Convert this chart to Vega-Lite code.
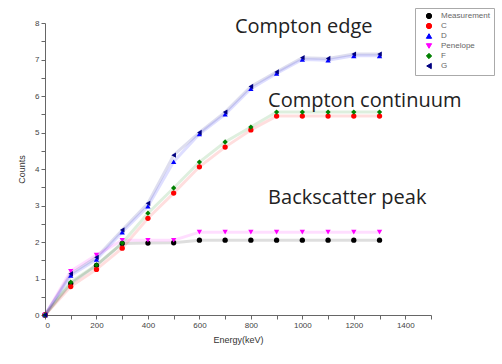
{
  "$schema": "https://vega.github.io/schema/vega-lite/v6.json",
  "autosize": {"type": "none"},
  "width": 386,
  "height": 292,
  "padding": {"left": 45, "top": 23, "right": 71, "bottom": 49},
  "background": "white",
  "config": {
    "view": {"stroke": null},
    "font": "Liberation Sans",
    "axis": {"grid": false, "domainColor": "#666", "tickColor": "#666", "labelColor": "#444", "titleColor": "#333", "labelFontSize": 8, "titleFontSize": 9, "titleFontWeight": "normal", "tickSize": 4, "labelOverlap": false},
    "legend": {"title": null, "orient": "none", "legendX": 370, "legendY": -15, "labelFontSize": 8, "labelColor": "#666", "symbolSize": 28, "symbolOpacity": 1, "symbolStrokeWidth": 1, "rowPadding": 0, "strokeColor": "#aaa", "padding": 4, "fillColor": "white", "labelOffset": 8, "symbolOffset": 6, "labelLimit": 80}
  },
  "datasets": {
    "series": [
      {"energy": 0, "counts": 0, "sim": "Measurement"},
      {"energy": 100, "counts": 0.86, "sim": "Measurement"},
      {"energy": 200, "counts": 1.36, "sim": "Measurement"},
      {"energy": 300, "counts": 1.96, "sim": "Measurement"},
      {"energy": 400, "counts": 1.97, "sim": "Measurement"},
      {"energy": 500, "counts": 1.98, "sim": "Measurement"},
      {"energy": 600, "counts": 2.05, "sim": "Measurement"},
      {"energy": 700, "counts": 2.05, "sim": "Measurement"},
      {"energy": 800, "counts": 2.05, "sim": "Measurement"},
      {"energy": 900, "counts": 2.05, "sim": "Measurement"},
      {"energy": 1000, "counts": 2.05, "sim": "Measurement"},
      {"energy": 1100, "counts": 2.05, "sim": "Measurement"},
      {"energy": 1200, "counts": 2.05, "sim": "Measurement"},
      {"energy": 1300, "counts": 2.05, "sim": "Measurement"},
      {"energy": 0, "counts": 0, "sim": "C"},
      {"energy": 100, "counts": 0.78, "sim": "C"},
      {"energy": 200, "counts": 1.25, "sim": "C"},
      {"energy": 300, "counts": 1.83, "sim": "C"},
      {"energy": 400, "counts": 2.65, "sim": "C"},
      {"energy": 500, "counts": 3.34, "sim": "C"},
      {"energy": 600, "counts": 4.06, "sim": "C"},
      {"energy": 700, "counts": 4.6, "sim": "C"},
      {"energy": 800, "counts": 5.07, "sim": "C"},
      {"energy": 900, "counts": 5.45, "sim": "C"},
      {"energy": 1000, "counts": 5.45, "sim": "C"},
      {"energy": 1100, "counts": 5.45, "sim": "C"},
      {"energy": 1200, "counts": 5.45, "sim": "C"},
      {"energy": 1300, "counts": 5.45, "sim": "C"},
      {"energy": 0, "counts": 0, "sim": "D"},
      {"energy": 100, "counts": 1.08, "sim": "D"},
      {"energy": 200, "counts": 1.52, "sim": "D"},
      {"energy": 300, "counts": 2.27, "sim": "D"},
      {"energy": 400, "counts": 2.98, "sim": "D"},
      {"energy": 500, "counts": 4.2, "sim": "D"},
      {"energy": 600, "counts": 4.96, "sim": "D"},
      {"energy": 700, "counts": 5.5, "sim": "D"},
      {"energy": 800, "counts": 6.2, "sim": "D"},
      {"energy": 900, "counts": 6.62, "sim": "D"},
      {"energy": 1000, "counts": 7.0, "sim": "D"},
      {"energy": 1100, "counts": 6.98, "sim": "D"},
      {"energy": 1200, "counts": 7.1, "sim": "D"},
      {"energy": 1300, "counts": 7.1, "sim": "D"},
      {"energy": 0, "counts": 0, "sim": "Penelope"},
      {"energy": 100, "counts": 1.2, "sim": "Penelope"},
      {"energy": 200, "counts": 1.64, "sim": "Penelope"},
      {"energy": 300, "counts": 2.05, "sim": "Penelope"},
      {"energy": 400, "counts": 2.05, "sim": "Penelope"},
      {"energy": 500, "counts": 2.05, "sim": "Penelope"},
      {"energy": 600, "counts": 2.27, "sim": "Penelope"},
      {"energy": 700, "counts": 2.27, "sim": "Penelope"},
      {"energy": 800, "counts": 2.27, "sim": "Penelope"},
      {"energy": 900, "counts": 2.27, "sim": "Penelope"},
      {"energy": 1000, "counts": 2.27, "sim": "Penelope"},
      {"energy": 1100, "counts": 2.27, "sim": "Penelope"},
      {"energy": 1200, "counts": 2.27, "sim": "Penelope"},
      {"energy": 1300, "counts": 2.27, "sim": "Penelope"},
      {"energy": 0, "counts": 0, "sim": "F"},
      {"energy": 100, "counts": 0.9, "sim": "F"},
      {"energy": 200, "counts": 1.37, "sim": "F"},
      {"energy": 300, "counts": 1.97, "sim": "F"},
      {"energy": 400, "counts": 2.79, "sim": "F"},
      {"energy": 500, "counts": 3.48, "sim": "F"},
      {"energy": 600, "counts": 4.19, "sim": "F"},
      {"energy": 700, "counts": 4.74, "sim": "F"},
      {"energy": 800, "counts": 5.15, "sim": "F"},
      {"energy": 900, "counts": 5.56, "sim": "F"},
      {"energy": 1000, "counts": 5.56, "sim": "F"},
      {"energy": 1100, "counts": 5.56, "sim": "F"},
      {"energy": 1200, "counts": 5.56, "sim": "F"},
      {"energy": 1300, "counts": 5.56, "sim": "F"},
      {"energy": 0, "counts": 0, "sim": "G"},
      {"energy": 100, "counts": 1.13, "sim": "G"},
      {"energy": 200, "counts": 1.58, "sim": "G"},
      {"energy": 300, "counts": 2.33, "sim": "G"},
      {"energy": 400, "counts": 3.06, "sim": "G"},
      {"energy": 500, "counts": 4.38, "sim": "G"},
      {"energy": 600, "counts": 5.0, "sim": "G"},
      {"energy": 700, "counts": 5.56, "sim": "G"},
      {"energy": 800, "counts": 6.26, "sim": "G"},
      {"energy": 900, "counts": 6.66, "sim": "G"},
      {"energy": 1000, "counts": 7.05, "sim": "G"},
      {"energy": 1100, "counts": 7.03, "sim": "G"},
      {"energy": 1200, "counts": 7.15, "sim": "G"},
      {"energy": 1300, "counts": 7.15, "sim": "G"}
    ],
    "notes": [
      {"energy": 738, "counts": 7.89, "label": "Compton edge"},
      {"energy": 867, "counts": 5.86, "label": "Compton continuum"},
      {"energy": 867, "counts": 3.2, "label": "Backscatter peak"}
    ]
  },
  "encoding": {
    "x": {"field": "energy", "type": "quantitative", "scale": {"domain": [0, 1500], "nice": false},
      "axis": {"title": "Energy(keV)", "labelOverlap": false, "values": [0,100,200,300,400,500,600,700,800,900,1000,1100,1200,1300,1400,1500], "labelExpr": "datum.value % 200 == 0 && datum.value <= 1400 ? datum.value : ''", "titlePadding": 6}},
    "y": {"field": "counts", "type": "quantitative", "scale": {"domain": [0, 8], "nice": false},
      "axis": {"title": "Counts", "labelOverlap": false, "values": [0,0.5,1,1.5,2,2.5,3,3.5,4,4.5,5,5.5,6,6.5,7,7.5,8], "labelExpr": "floor(datum.value) == datum.value ? datum.value : ''", "titlePadding": 8}}
  },
  "layer": [
    {
      "data": {"name": "series"},
      "mark": {"type": "line", "strokeWidth": 3, "opacity": 0.13},
      "encoding": {
        "color": {"field": "sim", "type": "nominal",
          "scale": {"domain": ["Measurement", "C", "D", "Penelope", "F", "G"], "range": ["#000000", "#ff0000", "#0000ff", "#ff00ff", "#008000", "#000080"]}},
        "detail": {"field": "sim"}
      }
    },
    {
      "data": {"name": "series"},
      "mark": {"type": "point", "filled": true, "size": 28, "opacity": 1},
      "encoding": {
        "color": {"field": "sim", "type": "nominal",
          "scale": {"domain": ["Measurement", "C", "D", "Penelope", "F", "G"], "range": ["#000000", "#ff0000", "#0000ff", "#ff00ff", "#008000", "#000080"]}},
        "shape": {"field": "sim", "type": "nominal",
          "scale": {"domain": ["Measurement", "C", "D", "Penelope", "F", "G"], "range": ["circle", "circle", "triangle-up", "triangle-down", "diamond", "triangle-left"]}}
      }
    },
    {
      "data": {"name": "notes"},
      "mark": {"type": "text", "align": "left", "baseline": "middle", "font": "Open Sans", "fontSize": 20, "color": "#222"},
      "encoding": {
        "text": {"field": "label"}
      }
    }
  ]
}
